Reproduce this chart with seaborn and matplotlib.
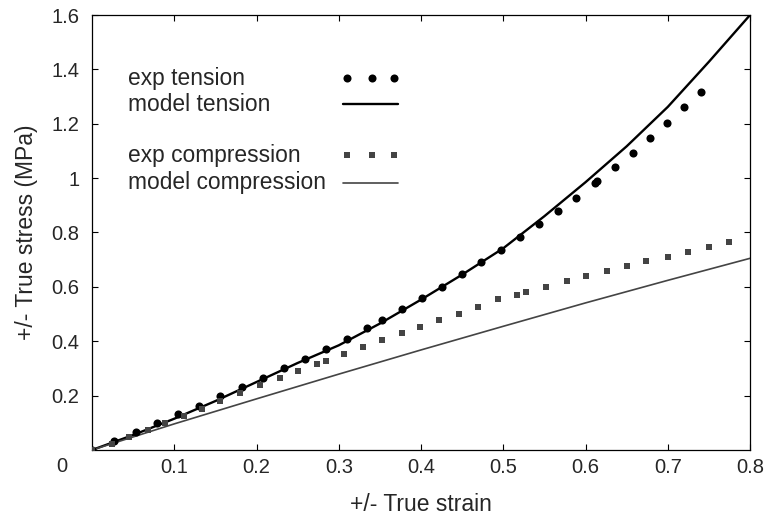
import numpy as np
import pandas as pd
import matplotlib
matplotlib.use("Agg")
import matplotlib.pyplot as plt
import seaborn as sns

# --- data ---
exp_tension_strain = [0.0, 0.027, 0.053, 0.079, 0.105, 0.130, 0.156, 0.182, 0.208, 0.233,
                      0.259, 0.285, 0.310, 0.334, 0.352, 0.377, 0.401, 0.426, 0.450, 0.473,
                      0.497, 0.520, 0.543, 0.566, 0.589, 0.612, 0.614, 0.636, 0.658, 0.678,
                      0.699, 0.720, 0.741]
exp_tension_stress = [0.0, 0.034, 0.067, 0.098, 0.131, 0.163, 0.197, 0.232, 0.265, 0.300,
                      0.335, 0.371, 0.408, 0.449, 0.478, 0.519, 0.559, 0.601, 0.646, 0.691,
                      0.736, 0.782, 0.831, 0.878, 0.928, 0.981, 0.988, 1.042, 1.093, 1.149,
                      1.204, 1.260, 1.318]

model_tension_strain = [0.0, 0.05, 0.1, 0.15, 0.2, 0.25, 0.3, 0.35, 0.4, 0.45, 0.5,
                        0.55, 0.6, 0.65, 0.7, 0.75, 0.8]
model_tension_stress = [0.0, 0.055, 0.115, 0.18, 0.25, 0.32, 0.385, 0.465, 0.553, 0.645, 0.742,
                        0.86, 0.985, 1.117, 1.262, 1.428, 1.6]

exp_comp_strain = [0.0, 0.024, 0.045, 0.068, 0.089, 0.112, 0.134, 0.156, 0.180, 0.204,
                   0.228, 0.250, 0.273, 0.284, 0.306, 0.330, 0.353, 0.377, 0.399, 0.422,
                   0.446, 0.469, 0.493, 0.517, 0.528, 0.552, 0.577, 0.601, 0.626, 0.651,
                   0.674, 0.700, 0.725, 0.750, 0.775]
exp_comp_stress = [0.0, 0.021, 0.048, 0.074, 0.098, 0.125, 0.152, 0.180, 0.208, 0.238,
                   0.264, 0.290, 0.316, 0.327, 0.353, 0.380, 0.405, 0.429, 0.452, 0.478,
                   0.501, 0.525, 0.555, 0.570, 0.580, 0.601, 0.620, 0.641, 0.659, 0.677,
                   0.694, 0.710, 0.729, 0.748, 0.766]

model_comp_strain = [0.0, 0.1, 0.2, 0.3, 0.4, 0.5, 0.6, 0.7, 0.8]
model_comp_stress = [0.0, 0.096, 0.188, 0.279, 0.368, 0.455, 0.541, 0.624, 0.705]

x_ticks = [0.1, 0.2, 0.3, 0.4, 0.5, 0.6, 0.7, 0.8]
y_ticks = [0.2, 0.4, 0.6, 0.8, 1.0, 1.2, 1.4, 1.6]
y_tick_labels = ["0.2", "0.4", "0.6", "0.8", "1", "1.2", "1.4", "1.6"]

BLACK = "#000000"
GREY = "#444444"

sns.set_style("ticks")
plt.rcParams["font.family"] = ["Liberation Sans", "DejaVu Sans"]

fig = plt.figure(figsize=(7.68, 5.25), dpi=100)
ax = fig.add_axes([0.1198, 0.1429, 0.8568, 0.8285])

# model curves
sns.lineplot(x=model_tension_strain, y=model_tension_stress, ax=ax, color=BLACK,
             linewidth=1.7, sort=False, estimator=None)
sns.lineplot(x=model_comp_strain, y=model_comp_stress, ax=ax, color=GREY,
             linewidth=1.2, sort=False, estimator=None)
# experimental points
sns.scatterplot(x=exp_tension_strain, y=exp_tension_stress, ax=ax, color=BLACK,
                marker="o", s=34, linewidth=0, zorder=3)
sns.scatterplot(x=exp_comp_strain, y=exp_comp_stress, ax=ax, color=GREY,
                marker="s", s=20, linewidth=0, zorder=3)

ax.set_xlim(0, 0.8)
ax.set_ylim(0, 1.6)
ax.set_xticks(x_ticks)
ax.set_xticklabels([f"{v:g}" for v in x_ticks])
ax.set_yticks(y_ticks)
ax.set_yticklabels(y_tick_labels)
ax.tick_params(direction="in", length=4.5, width=0.8, top=True, right=True,
               labelsize=14.5, color=BLACK)
ax.tick_params(axis="x", pad=6)
ax.tick_params(axis="y", pad=9)
for sp in ax.spines.values():
    sp.set_visible(True)
    sp.set_linewidth(0.9)
    sp.set_color(BLACK)

# shared origin label
ax.text(-0.046, -0.038, "0", transform=ax.transAxes, fontsize=14.5,
        ha="center", va="center")

ax.set_xlabel("+/- True strain", fontsize=16.5, labelpad=11)
ax.set_ylabel("+/- True stress (MPa)", fontsize=16.5, labelpad=10)

# legend drawn gnuplot-style: text left, sample right
legend_rows = [
    ("exp tension", 0.855, "dots"),
    ("model tension", 0.795, "thick"),
    ("exp compression", 0.678, "squares"),
    ("model compression", 0.614, "thin"),
]
for label, yy, kind in legend_rows:
    ax.text(0.055, yy, label, transform=ax.transAxes, fontsize=16.4,
            ha="left", va="center")
    if kind == "dots":
        ax.plot([0.388, 0.426, 0.459], [yy] * 3, "o", color=BLACK, ms=5.8,
                mew=0, transform=ax.transAxes)
    elif kind == "squares":
        ax.plot([0.388, 0.426, 0.459], [yy] * 3, "s", color=GREY, ms=4.3,
                mew=0, transform=ax.transAxes)
    elif kind == "thick":
        ax.plot([0.381, 0.465], [yy] * 2, color=BLACK, lw=1.7,
                transform=ax.transAxes)
    else:
        ax.plot([0.381, 0.465], [yy] * 2, color=GREY, lw=1.2,
                transform=ax.transAxes)

fig.savefig("out.png", dpi=100)
